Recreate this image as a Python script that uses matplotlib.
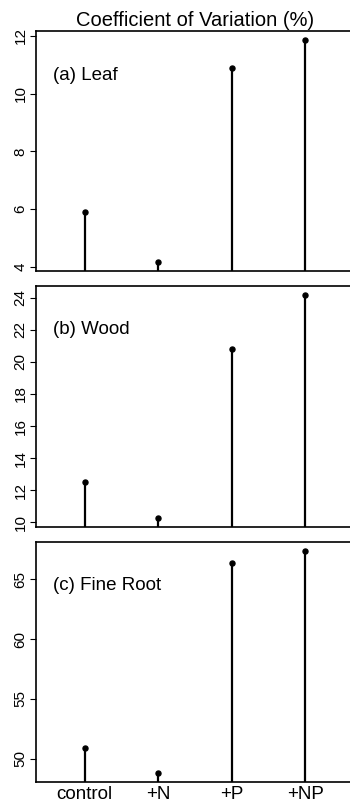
import numpy as np
import matplotlib
matplotlib.use("Agg")
import matplotlib.pyplot as plt

plt.rcParams['font.family'] = ['Liberation Sans', 'DejaVu Sans']

# treatments and coefficient of variation (%) per tissue
treatments = ["control", "+N", "+P", "+NP"]
leaf_cv = [5.88, 4.17, 10.87, 11.86]
wood_cv = [12.50, 10.29, 20.81, 24.19]
root_cv = [50.89, 48.83, 66.36, 67.39]

panel_labels = ["(a) Leaf", "(b) Wood", "(c) Fine Root"]
yticks_leaf = [4, 6, 8, 10, 12]
yticks_wood = [10, 12, 14, 16, 18, 20, 22, 24]
yticks_root = [50, 55, 60, 65]

W, H = 350, 802
fig = plt.figure(figsize=(W / 100, H / 100), dpi=100)

# panel boxes in pixels: (left, top, right, bottom)
boxes = [(36, 31, 354, 270.7), (36, 285.7, 354, 526.7), (36, 541.7, 354, 781.7)]
series = [leaf_cv, wood_cv, root_cv]
ticks = [yticks_leaf, yticks_wood, yticks_root]

x = np.arange(1, len(treatments) + 1)

for i, (box, vals, yt, lab) in enumerate(zip(boxes, series, ticks, panel_labels)):
    l, t, r, b = box
    ax = fig.add_axes([l / W, 1 - b / H, (r - l) / W, (b - t) / H])

    # R-style 4% padding around the data range
    lo, hi = min(vals), max(vals)
    pad = 0.04 * (hi - lo)
    ylo, yhi = lo - pad, hi + pad
    ax.set_ylim(ylo, yhi)
    ax.set_xlim(0.34, 4.66)

    ax.vlines(x, ylo, vals, color="black", lw=1.6)
    ax.plot(x, vals, "o", color="black", ms=3.6)

    ax.set_yticks(yt)
    ax.set_yticklabels([str(v) for v in yt], rotation=90, va="center", fontsize=11)
    ax.tick_params(axis="y", length=4, width=0.8, pad=2)

    if i == 2:
        ax.set_xticks(x)
        ax.set_xticklabels(treatments, fontsize=13.5)
        ax.tick_params(axis="x", length=0, pad=3)
    else:
        ax.set_xticks([])

    for s in ax.spines.values():
        s.set_linewidth(1.2)

    # panel label sits ~44 px below the top of each box
    ax.text((53 - l) / (r - l), 1 - 44 / (b - t), lab,
            transform=ax.transAxes, fontsize=13.5, va="center", ha="left")

fig.text(195 / W, 1 - 21 / H, "Coefficient of Variation (%)", fontsize=14.5,
         ha="center", va="center")

fig.savefig("out.png", dpi=100)
